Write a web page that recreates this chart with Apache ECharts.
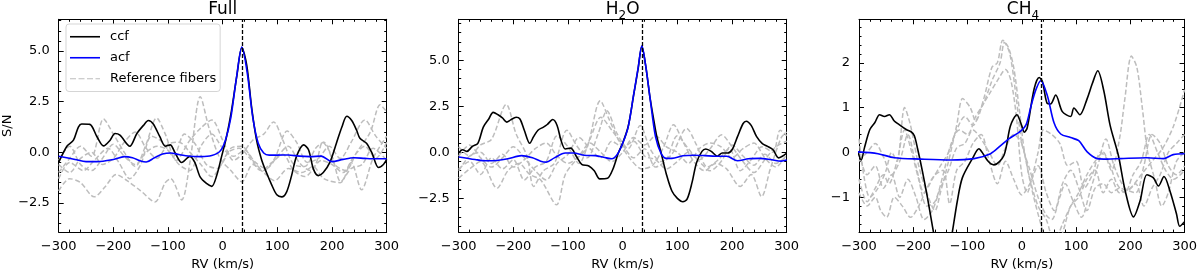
<!DOCTYPE html>
<html><head><meta charset="utf-8">
<script src="https://cdn.jsdelivr.net/npm/echarts@6/dist/echarts.min.js"></script>
<style>html,body{margin:0;padding:0;background:#fff}#c{width:1200px;height:276px}</style>
</head><body><div id="c"></div>
<script>
// ---------------- DATA ----------------
const RV_PLANET = 35;
const xTicks = [-300, -200, -100, 0, 100, 200, 300];

// Panel "Full"
const fullCcf = [[-300,-0.5],[-285,0.3],[-273,0.6],[-264,1.25],[-258,1.4],[-243,1.38],[-230,0.77],[-218,0.32],[-206,0.6],[-197,0.93],[-188,0.85],[-170,0.3],[-157,0.93],[-145,1.33],[-136,1.57],[-127,1.4],[-115,0.77],[-105,0.3],[-96,0.37],[-87,-0.03],[-75,-0.5],[-60,-0.2],[-51,-0.5],[-41,-1.23],[-29,-1.55],[-20,-1.68],[-11,-1.15],[-2,-0.2],[7,0.77],[16,2.05],[26,3.8],[35,5.18],[44,4.3],[53,2.2],[62,0.6],[71,-0.35],[80,-1.0],[90,-1.63],[99,-2.1],[108,-2.2],[117,-1.95],[126,-1.15],[135,-0.2],[148,0.37],[157,0.13],[166,-0.83],[175,-1.15],[184,-1.0],[196,-0.5],[208,0.45],[218,1.25],[227,1.78],[236,1.57],[245,1.09],[251,0.69],[263,0.45],[273,-0.03],[285,-0.75],[294,-0.6],[300,-0.35]];
const fullAcf = [[-300,-0.19],[-270,-0.35],[-250,-0.46],[-230,-0.46],[-200,-0.35],[-180,-0.21],[-165,-0.27],[-150,-0.43],[-140,-0.48],[-125,-0.27],[-110,-0.08],[-95,-0.03],[-80,-0.11],[-60,-0.19],[-40,-0.21],[-20,-0.16],[-5,0.05],[5,0.6],[15,1.73],[25,3.65],[35,5.2],[45,3.9],[55,1.73],[65,0.45],[75,-0.03],[85,-0.14],[100,-0.14],[120,-0.13],[140,-0.19],[160,-0.21],[180,-0.19],[200,-0.46],[220,-0.35],[240,-0.27],[260,-0.3],[280,-0.32],[300,-0.32]];
const fullRef1 = [[-300,-1.9],[-280,-1.3],[-260,-1.5],[-235,-2.2],[-215,-1.7],[-195,-1.1],[-175,-1.4],[-150,-1.9],[-124,-2.45],[-105,-1.5],[-95,-1.3],[-75,-2.35],[-60,-0.5],[-41,2.75],[-25,1.2],[-5,-0.3],[15,-0.9],[35,-1.45],[55,-0.6],[75,-1.0],[95,-1.4],[120,-0.8],[145,-1.0],[165,-0.7],[185,-1.3],[215,-1.5],[235,-0.5],[254,-1.85],[275,-0.3],[300,0.8]];
const fullRef2 = [[-300,-1.0],[-280,-0.3],[-260,0.3],[-240,-0.2],[-218,1.65],[-200,0.9],[-180,0.0],[-160,-0.7],[-140,0.4],[-121,1.7],[-105,0.9],[-85,-0.4],[-60,0.6],[-40,1.2],[-20,1.6],[0,0.6],[20,-0.4],[35,-0.1],[55,0.6],[75,0.9],[93,1.5],[110,0.6],[130,-0.6],[150,-0.7],[170,0.2],[185,0.5],[205,-0.6],[225,-0.9],[245,0.0],[270,1.0],[288,2.35],[300,2.0]];
const fullRef3 = [[-300,-0.6],[-280,-1.0],[-260,-0.3],[-240,0.0],[-220,-0.6],[-200,-0.3],[-180,0.5],[-160,1.0],[-140,0.2],[-120,-0.3],[-100,0.4],[-80,0.5],[-60,0.0],[-40,-0.6],[-20,-1.2],[0,-0.5],[15,0.2],[35,0.3],[55,-0.4],[75,-0.9],[95,-0.3],[118,1.05],[135,0.5],[155,-0.5],[175,-0.3],[195,0.3],[215,-0.3],[235,0.5],[260,1.6],[280,0.8],[300,0.2]];
const fullRef4 = [[-300,-1.3],[-280,-0.5],[-255,-0.9],[-235,-0.4],[-210,0.2],[-190,-0.5],[-170,-1.3],[-150,-0.6],[-130,0.8],[-110,0.5],[-90,-0.2],[-70,0.9],[-50,0.4],[-30,-0.6],[-10,-0.8],[10,0.0],[30,0.2],[50,-0.3],[70,-0.9],[90,-0.5],[110,-0.1],[130,-0.9],[150,-1.2],[170,-0.6],[183,0.5],[200,-0.2],[216,-1.45],[235,-0.8],[255,-0.6],[275,0.2],[300,-0.4]];
const fullRef5 = [[-300,-0.4],[-280,0.3],[-260,-0.6],[-240,-0.9],[-220,-0.3],[-200,0.4],[-180,-0.2],[-160,-0.6],[-140,0.0],[-120,0.3],[-100,0.1],[-80,-0.6],[-60,-0.9],[-40,0.3],[-20,0.9],[0,0.2],[20,-0.2],[40,0.1],[60,-0.5],[80,-0.8],[100,-0.2],[120,0.3],[140,-0.5],[160,-0.9],[180,-0.4],[200,-0.6],[220,-1.0],[240,-0.2],[260,0.3],[280,-0.3],[300,0.5]];
const fullYTicks = [-2.5, 0, 2.5, 5.0];
const fullYMinor = [-3.5,-3,-2,-1.5,-1,-0.5,0.5,1,1.5,2,3,3.5,4,4.5,5.5,6,6.5];

// Panel "H2O"
const h2oCcf = [[-300,-0.03],[-293,0.14],[-285,0.05],[-275,0.32],[-265,0.49],[-255,1.37],[-245,1.81],[-237,2.17],[-228,2.04],[-220,1.87],[-212,1.64],[-205,1.76],[-195,1.9],[-188,1.81],[-180,1.2],[-170,0.49],[-163,0.85],[-155,1.2],[-145,1.37],[-138,1.51],[-128,1.78],[-120,1.46],[-113,0.67],[-105,0.18],[-95,0.23],[-85,-0.21],[-75,-0.65],[-62,-0.74],[-52,-1.0],[-42,-1.44],[-28,-1.41],[-18,-0.92],[-8,-0.04],[0,0.5],[10,1.4],[20,3.1],[28,4.5],[35,5.75],[42,4.7],[50,2.95],[56,1.9],[62,0.9],[70,0.0],[80,-1.2],[90,-2.1],[100,-2.5],[110,-2.68],[118,-2.53],[127,-1.62],[135,-0.56],[145,0.05],[152,0.18],[162,0.05],[173,-0.21],[182,-0.04],[192,-0.04],[200,0.14],[210,0.85],[220,1.55],[226,1.69],[235,1.46],[245,0.85],[255,0.49],[265,0.32],[275,0.14],[285,-0.3],[292,-0.21],[300,-0.04]];
const h2oAcf = [[-300,-0.25],[-270,-0.39],[-250,-0.46],[-230,-0.44],[-210,-0.35],[-185,-0.18],[-165,-0.3],[-150,-0.48],[-140,-0.53],[-125,-0.3],[-105,-0.04],[-90,-0.04],[-70,-0.16],[-50,-0.18],[-30,-0.3],[-20,-0.35],[-10,-0.12],[0,0.49],[10,1.37],[20,3.13],[28,4.54],[35,5.78],[42,4.72],[50,2.96],[60,0.85],[70,-0.04],[80,-0.33],[90,-0.33],[110,-0.19],[130,-0.16],[150,-0.18],[170,-0.21],[190,-0.21],[210,-0.46],[230,-0.35],[250,-0.33],[270,-0.39],[290,-0.48],[300,-0.42]];
const h2oRef1 = [[-300,-1.4],[-280,-0.9],[-260,-0.5],[-230,-1.95],[-210,-1.0],[-190,-0.6],[-170,-1.2],[-150,-1.5],[-121,-2.85],[-105,-1.2],[-85,-0.4],[-65,0.3],[-41,2.8],[-25,1.8],[-5,0.5],[15,-0.4],[35,-0.9],[55,-0.7],[75,0.3],[93,1.5],[110,0.6],[130,-0.5],[150,-1.0],[170,-0.6],[190,-0.9],[215,-1.85],[235,-1.2],[254,-2.4],[270,-0.9],[290,0.8],[300,1.1]];
const h2oRef2 = [[-300,0.3],[-280,-0.2],[-260,0.4],[-240,0.7],[-213,2.6],[-195,1.0],[-175,-0.2],[-163,-1.85],[-145,-1.0],[-125,-0.6],[-102,1.2],[-85,0.4],[-65,-0.3],[-45,1.0],[-29,2.25],[-10,1.0],[10,0.2],[32,1.45],[50,0.2],[70,-0.5],[90,-0.1],[117,1.3],[135,0.4],[155,-0.8],[175,-0.4],[195,0.2],[215,-1.0],[235,-0.4],[255,0.3],[275,0.0],[288,1.2],[300,0.9]];
const h2oRef3 = [[-300,-0.9],[-280,-0.5],[-260,-1.2],[-240,-0.3],[-220,-0.9],[-200,-0.4],[-180,-1.5],[-160,-0.8],[-140,-0.5],[-120,0.9],[-100,0.3],[-80,-0.6],[-60,0.7],[-40,1.9],[-20,1.2],[0,0.4],[20,-0.3],[40,0.2],[60,-0.8],[80,-0.4],[100,0.9],[120,0.2],[140,-0.4],[160,0.2],[181,0.95],[200,0.3],[220,-0.5],[240,-1.1],[260,-0.4],[280,0.3],[300,0.6]];
const h2oRef4 = [[-300,-0.2],[-280,0.4],[-260,-0.3],[-240,-0.8],[-220,-0.3],[-200,0.3],[-180,-0.3],[-160,-1.0],[-140,-1.5],[-120,-0.6],[-100,-0.1],[-80,0.8],[-60,0.2],[-40,-0.3],[-20,0.6],[0,0.3],[20,0.6],[40,-0.2],[60,-0.4],[80,-0.9],[100,-0.5],[120,0.0],[140,-0.5],[160,-1.0],[180,-0.5],[200,0.4],[220,-0.2],[240,-0.7],[260,-0.1],[280,-0.6],[300,-0.2]];
const h2oRef5 = [[-300,-1.0],[-280,-0.2],[-260,0.0],[-240,-0.6],[-220,-0.1],[-200,-0.8],[-180,-0.4],[-160,0.2],[-140,0.5],[-120,-0.2],[-100,-0.6],[-80,-0.2],[-60,0.5],[-40,0.0],[-20,-0.5],[0,0.0],[20,0.8],[40,0.4],[60,0.9],[80,0.3],[100,0.0],[120,-0.6],[140,0.2],[160,0.5],[180,0.3],[200,-0.3],[220,0.2],[240,0.5],[260,-0.3],[280,-0.8],[300,-0.1]];
const h2oYTicks = [-2.5, 0, 2.5, 5.0];
const h2oYMinor = [-4,-3.5,-3,-2,-1.5,-1,-0.5,0.5,1,1.5,2,3,3.5,4,4.5,5.5,6,6.5,7];

// Panel "CH4"
const ch4Ccf = [[-302,0.01],[-296,-0.17],[-290,0.1],[-280,0.51],[-271,0.66],[-262,0.84],[-253,0.8],[-244,0.84],[-235,0.7],[-226,0.62],[-213,0.51],[-204,0.46],[-198,0.37],[-192,0.08],[-183,-0.43],[-174,-1.0],[-165.5,-1.59],[-160,-1.95],[-150,-2.4],[-140,-2.5],[-133,-2.1],[-128,-1.78],[-118.7,-1.08],[-109.6,-0.57],[-91,-0.14],[-79,0.08],[-73,0.0],[-62,-0.2],[-51.5,-0.28],[-33,-0.07],[-21,0.59],[-9,0.84],[0,0.59],[4.7,0.45],[10,0.55],[22.8,1.42],[32,1.67],[38,1.58],[47,1.09],[53,1.08],[62.5,1.28],[74.7,0.91],[90,0.8],[96,0.99],[107,0.84],[120.5,1.2],[129.8,1.53],[140,1.82],[151,1.38],[163,0.59],[178,-0.07],[190.6,-0.86],[205.9,-1.44],[218,-1.08],[230.4,-0.5],[242.6,-0.57],[251.8,-0.75],[262,-0.54],[273,-0.86],[285,-1.37],[291,-1.65],[300,-1.55]];
const ch4Acf = [[-302,0.01],[-265,-0.03],[-235,-0.12],[-186,-0.15],[-131,-0.17],[-88,-0.14],[-57.6,-0.03],[-39,0.15],[-24,0.3],[-1.6,0.48],[8,0.62],[16.7,1.02],[26,1.4],[35,1.6],[47,1.27],[59.4,0.66],[71.7,0.41],[90,0.33],[105,0.26],[120.5,0.01],[139,-0.14],[157,-0.15],[181.5,-0.14],[230,-0.12],[261,-0.14],[279,-0.05],[300,-0.03]];
const ch4Ref1 = [[-300,0.3],[-290,-0.6],[-280,-1.0],[-265,-0.8],[-250,-0.4],[-240,0.0],[-230,-0.2],[-216,1.0],[-205,0.6],[-190,-0.3],[-175,-0.9],[-160,-1.3],[-150,-0.9],[-135,-0.2],[-120,0.6],[-109,1.2],[-95,1.0],[-85,0.7],[-70,1.2],[-55,1.9],[-45,2.0],[-35,2.5],[-25,2.35],[-15,1.9],[-5,1.0],[5,0.0],[20,-0.9],[35,-1.6],[45,-2.0],[60,-2.2],[75,-1.8],[90,-1.2],[105,-1.0],[120,-0.6],[135,-0.4],[150,-0.9],[165,-0.6],[180,-0.9],[200,-0.8],[220,-0.5],[240,-0.2],[260,0.1],[280,0.6],[300,1.4]];
const ch4Ref2 = [[-300,-0.6],[-285,-1.1],[-270,-0.8],[-255,-0.5],[-245,-0.7],[-230,-0.2],[-216,0.5],[-205,0.1],[-190,-0.6],[-175,-1.2],[-160,-1.1],[-145,-0.5],[-130,0.2],[-115,0.5],[-100,0.4],[-85,0.8],[-70,1.1],[-55,1.6],[-40,2.0],[-32,2.45],[-22,2.2],[-10,1.2],[0,0.2],[15,-0.4],[30,-1.0],[45,-1.4],[55,-1.5],[70,-1.0],[80,-0.7],[95,-1.1],[110,-1.45],[125,-0.9],[140,-0.3],[155,0.3],[170,-0.3],[190,-0.8],[210,-0.9],[225,-0.3],[240,0.4],[255,0.2],[270,-0.3],[285,-0.5],[300,-0.3]];
const ch4Ref3 = [[-300,-0.2],[-285,0.0],[-270,0.2],[-255,-0.1],[-240,-0.5],[-225,-0.2],[-210,0.4],[-195,-0.3],[-180,-0.9],[-165,-0.6],[-150,-0.3],[-135,0.0],[-120,0.5],[-105,0.8],[-90,0.6],[-75,1.0],[-60,1.3],[-45,1.6],[-30,1.85],[-20,1.6],[-10,0.8],[0,-0.5],[10,-0.9],[20,-0.5],[30,0.0],[40,0.5],[55,0.4],[70,0.2],[85,-0.3],[100,-0.2],[115,-0.8],[130,-0.5],[145,0.0],[160,-0.2],[175,-0.7],[190,-0.9],[205,-0.5],[220,-0.2],[235,0.4],[250,0.0],[265,-0.4],[280,-0.6],[300,-0.4]];
const ch4Ref4 = [[-300,-0.9],[-285,-1.2],[-270,-1.0],[-260,-1.3],[-249,-1.45],[-235,-1.0],[-220,-1.2],[-205,-1.45],[-190,-1.2],[-175,-0.8],[-160,-0.5],[-145,-0.4],[-133,-1.15],[-120,-0.4],[-105,-0.2],[-90,0.2],[-75,0.4],[-60,-0.2],[-45,-0.7],[-30,-0.2],[-15,-0.6],[0,-0.95],[15,-0.7],[30,-0.3],[45,-0.9],[60,-1.3],[75,-0.7],[90,-0.4],[105,-0.8],[120,-1.3],[135,-0.8],[150,-0.7],[165,-0.9],[180,-0.8],[195,-0.85],[210,-0.7],[225,-1.2],[240,-0.8],[255,-0.5],[270,0.0],[285,0.2],[300,0.4]];
const ch4Ref5 = [[-300,0.0],[-285,-0.5],[-270,-0.3],[-255,-0.8],[-240,-0.5],[-225,-1.0],[-210,-0.6],[-195,-1.0],[-180,-1.5],[-165,-1.3],[-150,-0.8],[-135,-0.4],[-120,0.1],[-105,0.2],[-90,0.5],[-75,0.3],[-60,0.0],[-45,-0.3],[-30,0.1],[-15,0.4],[0,0.2],[15,-0.6],[30,-1.2],[45,-1.5],[60,-2.0],[75,-1.6],[90,-1.2],[105,-0.9],[120,-0.5],[135,-0.2],[150,0.0],[165,-0.4],[180,0.3],[190,1.2],[202,2.15],[212,1.9],[222,1.0],[232,0.0],[245,-0.6],[258,-1.2],[270,-0.9],[285,-0.2],[300,0.0]];
const ch4YTicks = [-1, 0, 1, 2];
const ch4YMinor = [-1.6,-1.4,-1.2,-0.8,-0.6,-0.4,-0.2,0.2,0.4,0.6,0.8,1.2,1.4,1.6,1.8,2.2,2.4,2.6,2.8];

// ---------------- BUILD ----------------
const FONT = 'DejaVu Sans';
const panels = [
  {title: '{n|Full}', ccf: fullCcf, acf: fullAcf, refs: [fullRef1, fullRef2, fullRef3, fullRef4, fullRef5], yMin: -3.94, yMax: 6.57, yTicks: fullYTicks, yMinor: fullYMinor, dec: 1, left: 58.7},
  {title: '{n|H}{s|2}{n|O}', ccf: h2oCcf, acf: h2oAcf, refs: [h2oRef1, h2oRef2, h2oRef3, h2oRef4, h2oRef5], yMin: -4.33, yMax: 7.22, yTicks: h2oYTicks, yMinor: h2oYMinor, dec: 1, left: 458.7},
  {title: '{n|CH}{s|4}', ccf: ch4Ccf, acf: ch4Acf, refs: [ch4Ref1, ch4Ref2, ch4Ref3, ch4Ref4, ch4Ref5], yMin: -1.78, yMax: 2.97, yTicks: ch4YTicks, yMinor: ch4YMinor, dec: 0, left: 859}
];
const GW = 328, GT = 19.3, GH = 218.7;
const minus = v => (v < 0 ? '\u2212' : '') + Math.abs(v);
const black = {color: '#000', width: 1};
const REF_COLOR = '#bdbdbd';

const grid = [], xAxis = [], yAxis = [], series = [], graphic = [];
panels.forEach((p, i) => {
  grid.push({left: p.left, top: GT, width: GW, height: GH, containLabel: false});
  graphic.push({type: 'text', x: p.left + GW / 2, y: 1.5,
    style: {text: p.title, align: 'center', verticalAlign: 'top',
      rich: {n: {fontFamily: FONT, fontSize: 17, lineHeight: 20, fill: '#000', verticalAlign: 'top'},
             s: {fontFamily: FONT, fontSize: 12, lineHeight: 12, verticalAlign: 'bottom', fill: '#000', padding: [0, 0, 0, 0]}}}});
  const xBase = {gridIndex: i, type: 'value', min: -300, max: 300, interval: 100,
    axisLine: {show: true, onZero: false, lineStyle: black},
    axisTick: {show: true, inside: true, length: 5, lineStyle: black},
    minorTick: {show: true, splitNumber: 5, length: 2.5, lineStyle: black},
    splitLine: {show: false}, minorSplitLine: {show: false}};
  xAxis.push(Object.assign({}, xBase, {position: 'bottom',
    axisLabel: {margin: 8, fontSize: 13, fontFamily: FONT, color: '#000', formatter: v => minus(v), customValues: xTicks},
    name: 'RV (km/s)', nameLocation: 'middle', nameGap: 23,
    nameTextStyle: {fontSize: 13, fontFamily: FONT, color: '#000'}}));
  xAxis.push(Object.assign({}, xBase, {position: 'top', axisLabel: {show: false}}));
  const yBase = {gridIndex: i, type: 'value', min: p.yMin, max: p.yMax, splitLine: {show: false}};
  yAxis.push(Object.assign({}, yBase, {position: 'left',
    axisLine: {show: true, onZero: false, lineStyle: black},
    axisTick: {show: true, inside: true, length: 5, lineStyle: black, customValues: p.yTicks},
    axisLabel: {margin: 9, fontSize: 13, fontFamily: FONT, color: '#000', customValues: p.yTicks,
      formatter: v => (v < 0 ? '\u2212' : '') + Math.abs(v).toFixed(p.dec)},
    name: i === 0 ? 'S/N' : '', nameLocation: 'middle', nameGap: 43, nameRotate: 90,
    nameTextStyle: {fontSize: 13, fontFamily: FONT, color: '#000'}}));
  yAxis.push(Object.assign({}, yBase, {position: 'right',
    axisLine: {show: true, onZero: false, lineStyle: black},
    axisTick: {show: true, inside: true, length: 5, lineStyle: black, customValues: p.yTicks},
    axisLabel: {show: false}}));
  yAxis.push(Object.assign({}, yBase, {position: 'left', axisLine: {show: false, onZero: false},
    axisTick: {show: true, inside: true, length: 2.5, lineStyle: black, customValues: p.yMinor},
    axisLabel: {show: false}}));
  yAxis.push(Object.assign({}, yBase, {position: 'right', axisLine: {show: false, onZero: false},
    axisTick: {show: true, inside: true, length: 2.5, lineStyle: black, customValues: p.yMinor},
    axisLabel: {show: false}}));
  const common = {type: 'line', xAxisIndex: 2 * i, yAxisIndex: 4 * i, symbol: 'none', showSymbol: false,
    smooth: 0.3, clip: true, animation: false, emphasis: {disabled: true}};
  p.refs.forEach(r => series.push(Object.assign({}, common, {name: 'Reference fibers', data: r, z: 2,
    lineStyle: {color: REF_COLOR, width: 1.5, type: [5, 2.5]}, itemStyle: {color: REF_COLOR}})));
  series.push(Object.assign({}, common, {name: 'ccf', data: p.ccf, z: 3,
    lineStyle: {color: '#000', width: 1.6}, itemStyle: {color: '#000'},
    markLine: {silent: true, symbol: 'none', label: {show: false}, animation: false,
      lineStyle: {color: '#000', width: 1.3, type: [4, 2]}, data: [{xAxis: RV_PLANET}]}}));
  series.push(Object.assign({}, common, {name: 'acf', data: p.acf, z: 4,
    lineStyle: {color: '#0000ff', width: 1.6}, itemStyle: {color: '#0000ff'}}));
});

const dashIcon = 'path://M0 0h6v1h-6zM8.5 0h6v1h-6zM17 0h6v1h-6zM25.5 0h4.5v1h-4.5z';
const chart = echarts.init(document.getElementById('c'), null, {renderer: 'canvas'});
chart.setOption({
  animation: false,
  backgroundColor: '#fff',
  grid, xAxis, yAxis, series, graphic,
  legend: {data: [{name: 'ccf', icon: 'rect'}, {name: 'acf', icon: 'rect'}, {name: 'Reference fibers', icon: dashIcon}],
    orient: 'vertical', left: 66, top: 24,
    itemWidth: 30, itemHeight: 1.6, itemGap: 5.5, padding: [5, 4, 5, 4],
    borderColor: '#d5d5d5', borderWidth: 1, borderRadius: 3, backgroundColor: '#fff',
    selectedMode: false, textStyle: {fontSize: 13, lineHeight: 15.5, fontFamily: FONT, color: '#000', padding: [0, 0, 0, 5]}}
});
</script></body></html>
